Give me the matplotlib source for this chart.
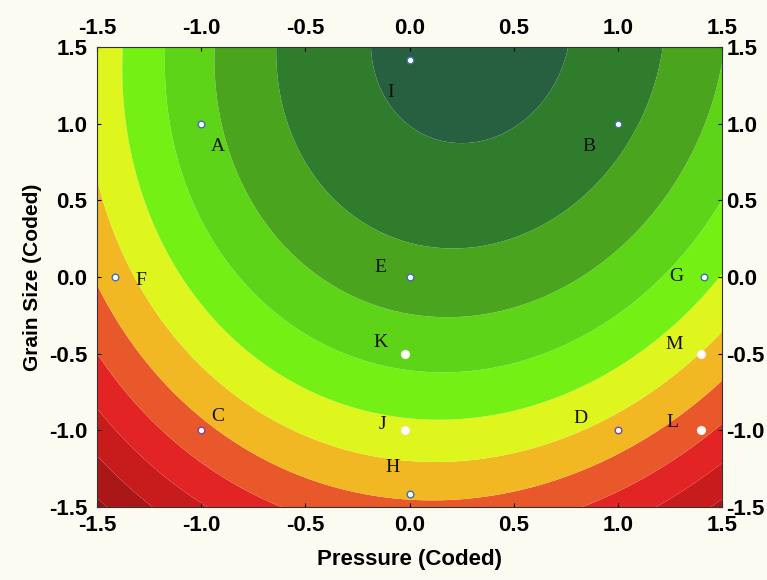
"""
Response-surface contour: Pressure vs Grain Size (coded units),
with the design / validation runs marked A-M.
"""
import matplotlib

matplotlib.use("Agg")
import matplotlib.pyplot as plt  # noqa: E402
import matplotlib.transforms as mtransforms  # noqa: E402
import numpy as np  # noqa: E402

# --------------------------------------------------------------------------- #
# Data
# --------------------------------------------------------------------------- #

# Second-order model read off the contour bands (coded units):
# z = b0 + b1*P + b2*G + b11*P^2 + b22*G^2 + b12*P*G
coef_b0 = 9.557
coef_linear = [0.62, 2.14]          # b1 (pressure), b2 (grain size)
coef_quadratic = [-1.57, -0.687]    # b11, b22
coef_interaction = 0.19             # b12

contour_levels = [-1, 1, 2, 3, 4, 5, 6, 7, 8, 9, 10, 11, 13]

run_names = ["A", "B", "C", "D", "E", "F", "G", "H", "I", "J", "K", "L", "M"]
run_pressure = [-1, 1, -1, 1, 0, -1.414, 1.414, 0, 0, -0.02, -0.02, 1.40, 1.40]
run_grain = [1, 1, -1, -1, 0, 0, 0, -1.414, 1.414, -1, -0.5, -1, -0.5]
run_kind = ["design", "design", "corner", "corner", "design", "design",
            "design", "design", "design", "check", "check", "check", "check"]

label_pressure = [-0.92, 0.86, -0.92, 0.82, -0.14, -1.29, 1.28, -0.08,
                  -0.09, -0.13, -0.14, 1.26, 1.27]
label_grain = [0.85, 0.85, -0.91, -0.92, 0.06, -0.02, 0.0, -1.24, 1.20,
               -0.96, -0.43, -0.95, -0.44]

tick_values = [-1.5, -1.0, -0.5, 0.0, 0.5, 1.0, 1.5]

# band colours, low response -> high response
band_colors = ["#8c1212", "#a91717", "#c81c1c", "#e32424", "#e8582a",
               "#f2b824", "#dff51e", "#74f014", "#5dd418", "#4ba41e",
               "#2f7d2c", "#276040"]

marker_style = {
    "design": dict(mfc="white", mec="#3f6fae", ms=4.8, mew=1.0),
    "corner": dict(mfc="white", mec="#7a4a9a", ms=4.8, mew=1.0),
    "check": dict(mfc="white", mec="#f6eef2", ms=5.8, mew=0.8),
}

plt.rcParams["axes.unicode_minus"] = False
plt.rcParams["font.family"] = ["Liberation Sans", "DejaVu Sans"]
plt.rcParams["font.weight"] = "bold"

# --------------------------------------------------------------------------- #
# Surface
# --------------------------------------------------------------------------- #
p = np.linspace(-1.5, 1.5, 401)
g = np.linspace(-1.5, 1.5, 401)
P, G = np.meshgrid(p, g)
Z = (coef_b0 + coef_linear[0] * P + coef_linear[1] * G
     + coef_quadratic[0] * P ** 2 + coef_quadratic[1] * G ** 2
     + coef_interaction * P * G)

fig = plt.figure(figsize=(7.67, 5.80), dpi=100, facecolor="#fcfbf1")
ax = fig.add_axes([0.1265, 0.1259, 0.8148, 0.7931])

ax.contourf(P, G, Z, levels=contour_levels, colors=band_colors,
            antialiased=True)

for name, px, gy, kind in zip(run_names, run_pressure, run_grain, run_kind):
    ax.plot(px, gy, "o", zorder=5, **marker_style[kind])

for name, lx, ly in zip(run_names, label_pressure, label_grain):
    ax.text(lx, ly, name, ha="center", va="center", fontsize=14,
            family="Liberation Serif", fontweight="normal",
            color="#111111", zorder=6)

ax.set_xlim(-1.5, 1.5)
ax.set_ylim(-1.5, 1.5)
ax.set_xticks(tick_values, [f"{t:.1f}" for t in tick_values])
ax.set_yticks(tick_values, [f"{t:.1f}" for t in tick_values])
ax.tick_params(direction="in", length=3, width=0.8, top=True, right=True,
               labeltop=True, labelright=True, labelsize=16)
ax.tick_params(axis="x", pad=6)
ax.tick_params(axis="y", pad=7)

# right-hand labels sit tighter against the frame
shift = mtransforms.ScaledTranslation(-4 / 72, 0, fig.dpi_scale_trans)
for tick in ax.yaxis.get_major_ticks():
    tick.label2.set_transform(tick.label2.get_transform() + shift)

for side in ax.spines.values():
    side.set_linewidth(0.8)
    side.set_color("#333333")

ax.set_xlabel("Pressure (Coded)", fontsize=16, fontweight="bold", labelpad=9)
ax.set_ylabel("Grain Size (Coded)", fontsize=15, fontweight="bold",
              labelpad=5)

fig.savefig("out.png", dpi=100, facecolor=fig.get_facecolor())
